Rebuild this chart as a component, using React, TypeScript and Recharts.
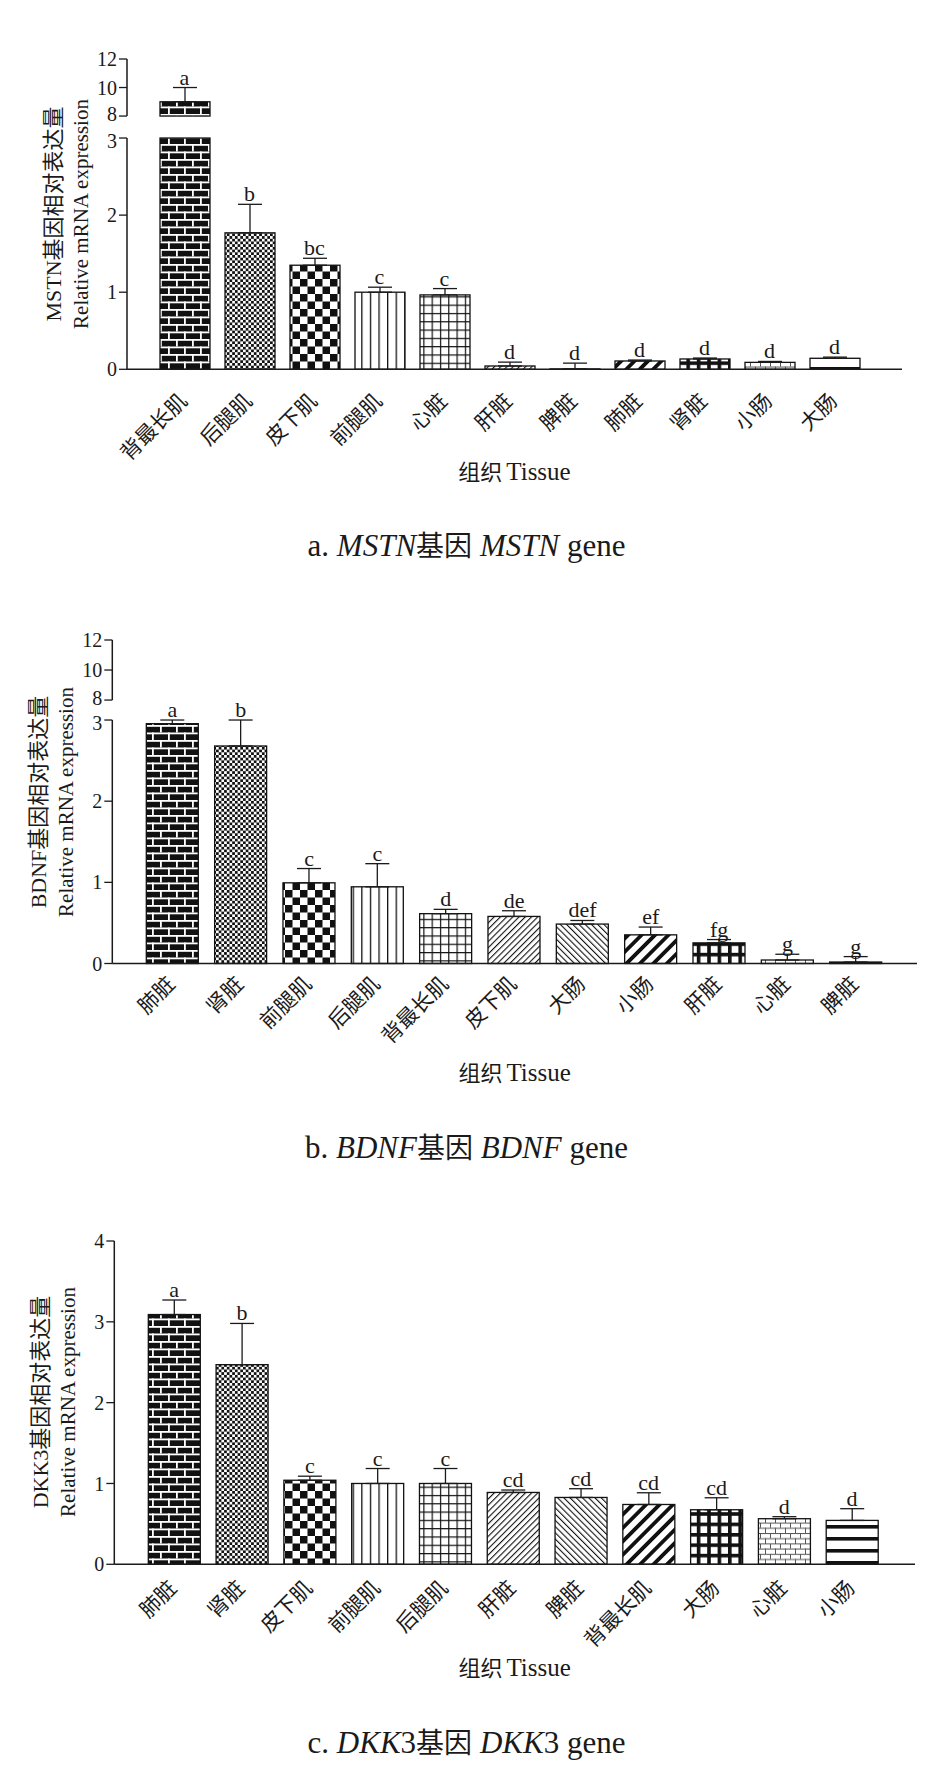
import React from 'react';
import { ComposedChart, Bar, XAxis, YAxis, ErrorBar, Line, LabelList, Cell, ReferenceLine } from 'recharts';

const SERIF = '"Liberation Serif", "Times New Roman", "Noto Sans CJK SC", serif';
const CJK = '"Noto Sans CJK SC", "Liberation Serif", sans-serif';
const INK = '#1a1a1a';

// ---------- Panel a: MSTN ----------
const mstnTissues = ['背最长肌', '后腿肌', '皮下肌', '前腿肌', '心脏', '肝脏', '脾脏', '肺脏', '肾脏', '小肠', '大肠'];
const mstnMeans = [9.0, 1.77, 1.35, 1.0, 0.965, 0.043, 0.005, 0.108, 0.134, 0.09, 0.143];
const mstnErrors = [1.0, 0.37, 0.09, 0.065, 0.082, 0.05, 0.075, 0.012, 0.012, 0.012, 0.015];
const mstnLetters = ['a', 'b', 'bc', 'c', 'c', 'd', 'd', 'd', 'd', 'd', 'd'];

// ---------- Panel b: BDNF ----------
const bdnfTissues = ['肺脏', '肾脏', '前腿肌', '后腿肌', '背最长肌', '皮下肌', '大肠', '小肠', '肝脏', '心脏', '脾脏'];
const bdnfMeans = [2.955, 2.68, 0.994, 0.945, 0.614, 0.58, 0.486, 0.353, 0.254, 0.043, 0.018];
const bdnfErrors = [0.045, 0.32, 0.176, 0.285, 0.053, 0.07, 0.044, 0.096, 0.041, 0.071, 0.067];
const bdnfLetters = ['a', 'b', 'c', 'c', 'd', 'de', 'def', 'ef', 'fg', 'g', 'g'];

// ---------- Panel c: DKK3 ----------
const dkkTissues = ['肺脏', '肾脏', '皮下肌', '前腿肌', '后腿肌', '肝脏', '脾脏', '背最长肌', '大肠', '心脏', '小肠'];
const dkkMeans = [3.09, 2.47, 1.04, 1.0, 1.0, 0.889, 0.827, 0.74, 0.675, 0.564, 0.543];
const dkkErrors = [0.18, 0.51, 0.05, 0.185, 0.185, 0.03, 0.108, 0.145, 0.148, 0.025, 0.145];
const dkkLetters = ['a', 'b', 'c', 'c', 'c', 'cd', 'cd', 'cd', 'cd', 'd', 'd'];

// ---------- Axis ticks ----------
const brokenTicks = [0, 1, 2, 3, 8, 10, 12];
const plainTicks = [0, 1, 2, 3, 4];
const brokenSegments = [[0, 3], [8, 12]];
const plainSegments = [[0, 4]];

type AxisMap = { to: (v: number) => number; from: (t: number) => number; broken: boolean; gap: number };

const makeBroken = (gap: number, k: number): AxisMap => ({
  broken: true,
  gap,
  to: (v: number) => (v >= 8 ? 3 + gap + (v - 8) * k : Math.min(v, 3)),
  from: (t: number) => (t <= 3 + 1e-6 ? Math.round(t) : Math.round(8 + (t - 3 - gap) / k)),
});
const plainMap: AxisMap = { broken: false, gap: 0, to: (v) => v, from: (t) => Math.round(t) };

const Patterns = ({ id }: { id: string }) => {
  const k = (i: number) => `${id}-p${i}`;
  const B = '#111';
  const W = '#fff';
  return (
    <defs>
      <pattern id={k(0)} patternUnits="userSpaceOnUse" width={16} height={15}>
        <rect width={16} height={15} fill={B} />
        <rect y={0} width={16} height={1.8} fill={W} />
        <rect y={7.5} width={16} height={1.8} fill={W} />
        <rect x={0} y={0} width={1.8} height={7.5} fill={W} />
        <rect x={8} y={7.5} width={1.8} height={7.5} fill={W} />
      </pattern>
      <pattern id={k(1)} patternUnits="userSpaceOnUse" width={5.4} height={5.4}>
        <rect width={5.4} height={5.4} fill={W} />
        <rect width={2.7} height={2.7} fill={B} />
        <rect x={2.7} y={2.7} width={2.7} height={2.7} fill={B} />
      </pattern>
      <pattern id={k(2)} patternUnits="userSpaceOnUse" width={15} height={15}>
        <rect width={15} height={15} fill={W} />
        <rect width={7.5} height={7.5} fill={B} />
        <rect x={7.5} y={7.5} width={7.5} height={7.5} fill={B} />
      </pattern>
      <pattern id={k(3)} patternUnits="userSpaceOnUse" width={8.6} height={10}>
        <rect width={8.6} height={10} fill={W} />
        <rect x={0} width={1.3} height={10} fill={B} />
      </pattern>
      <pattern id={k(4)} patternUnits="userSpaceOnUse" width={8.3} height={8.3}>
        <rect width={8.3} height={8.3} fill={W} />
        <rect x={0} width={1.2} height={8.3} fill={B} />
        <rect y={0} width={8.3} height={1.2} fill={B} />
      </pattern>
      <pattern id={k(5)} patternUnits="userSpaceOnUse" width={4.4} height={10} patternTransform="rotate(45)">
        <rect width={4.4} height={10} fill={W} />
        <rect x={0} width={1.1} height={10} fill={B} />
      </pattern>
      <pattern id={k(6)} patternUnits="userSpaceOnUse" width={4.4} height={10} patternTransform="rotate(-45)">
        <rect width={4.4} height={10} fill={W} />
        <rect x={0} width={1.1} height={10} fill={B} />
      </pattern>
      <pattern id={k(7)} patternUnits="userSpaceOnUse" width={9.5} height={10} patternTransform="rotate(45)">
        <rect width={9.5} height={10} fill={W} />
        <rect x={0} width={3.8} height={10} fill={B} />
      </pattern>
      <pattern id={k(8)} patternUnits="userSpaceOnUse" width={10.4} height={10.4}>
        <rect width={10.4} height={10.4} fill={B} />
        <rect x={3.6} y={3.6} width={6.8} height={6.8} fill={W} />
      </pattern>
      <pattern id={k(9)} patternUnits="userSpaceOnUse" width={10} height={10.4}>
        <rect width={10} height={10.4} fill={W} />
        <rect y={0} width={10} height={1} fill="#555" />
        <rect y={5.2} width={10} height={1} fill="#555" />
        <rect x={0} y={0} width={1} height={5.2} fill="#555" />
        <rect x={5} y={5.2} width={1} height={5.2} fill="#555" />
      </pattern>
      <pattern id={k(10)} patternUnits="userSpaceOnUse" width={10} height={12}>
        <rect width={10} height={12} fill={W} />
        <rect y={4} width={10} height={3.6} fill={B} />
      </pattern>
    </defs>
  );
};

const CatTick = (props: any) => {
  const { x, y, payload, dy } = props;
  const ax = x + 4;
  const ay = y + dy;
  return (
    <text
      x={ax}
      y={ay}
      transform={`rotate(-45, ${ax}, ${ay})`}
      textAnchor="end"
      fontSize={21}
      fontFamily={CJK}
      fill={INK}
    >
      {payload.value}
    </text>
  );
};

const YTick = (props: any) => {
  const { x, y, payload, fmt, broken } = props;
  const label = fmt(payload.value);
  let shift = 0;
  if (broken && label === '8') shift = -2.5;
  if (broken && label === '3') shift = 2.5;
  return (
    <text x={x} y={y + shift} dy="0.355em" textAnchor="end" fontSize={20} fontFamily={SERIF} fill={INK}>
      {label}
    </text>
  );
};

type PanelCfg = {
  id: string;
  tissues: string[];
  means: number[];
  errors: number[];
  letters: string[];
  plotTop: number;
  plotH: number;
  axisX: number;
  right: number;
  padL: number;
  padR: number;
  barSize: number;
  ticks: number[];
  segments: number[][];
  map: AxisMap;
  yMax: number;
  labelDy: number;
  titleY: number;
  captionY: number;
  yTitle1: string;
  caption: React.ReactNode;
};

const MARGIN_TOP = 20;
const XH = 150;

function Panel({ cfg }: { cfg: PanelCfg }) {
  const data = cfg.tissues.map((t, i) => ({
    tissue: t,
    mean: cfg.means[i],
    err: cfg.errors[i],
    letter: cfg.letters[i],
  }));
  const { to, from } = cfg.map;
  const height = MARGIN_TOP + cfg.plotH + XH;
  const chartTop = cfg.plotTop - MARGIN_TOP;
  const fmt = (t: number) => String(from(t));

  const shape = (props: any) => {
    const { x, y, width, height: h, fill, payload } = props;
    const common = { fill, stroke: '#111', strokeWidth: 1.3 };
    const hh = Math.max(h || 0, 0);
    if (!cfg.map.broken || payload.mean < 8 || hh <= 0) {
      return <rect x={x} y={y} width={width} height={hh} {...common} />;
    }
    const dv = to(payload.mean);
    const ppu = hh / dv;
    const base = y + hh;
    const lowTop = base - 3 * ppu;
    const highBottom = base - (3 + cfg.map.gap) * ppu;
    return (
      <g>
        <rect x={x} y={lowTop} width={width} height={base - lowTop} {...common} />
        <rect x={x} y={y} width={width} height={highBottom - y} {...common} />
      </g>
    );
  };

  const errKey = (d: any) => {
    const p = d && d.payload ? d.payload : d;
    return [0, to(p.mean + p.err) - to(p.mean)];
  };

  const plotCenter = (cfg.axisX + cfg.right) / 2;
  const cy = cfg.plotTop + cfg.plotH / 2;

  return (
    <>
      <div style={{ position: 'absolute', left: 0, top: chartTop, width: 933, height }}>
        <ComposedChart
          width={933}
          height={height}
          data={data}
          margin={{ top: MARGIN_TOP, right: 933 - cfg.right, bottom: 0, left: 0 }}
        >
          <Patterns id={cfg.id} />
          <XAxis
            dataKey="tissue"
            interval={0}
            tickLine={false}
            tickSize={0}
            tickMargin={0}
            height={XH}
            padding={{ left: cfg.padL, right: cfg.padR }}
            axisLine={{ stroke: INK, strokeWidth: 1.5 }}
            tick={(p: any) => <CatTick {...p} dy={cfg.labelDy} />}
          />
          <XAxis xAxisId="edge" type="number" domain={[0, 1]} hide />
          <YAxis
            type="number"
            width={cfg.axisX}
            domain={[0, to(cfg.yMax)]}
            ticks={cfg.ticks.map(to)}
            interval={0}
            tickFormatter={fmt}
            axisLine={false}
            tickLine={{ stroke: INK, strokeWidth: 1.3 }}
            tickSize={8}
            tickMargin={2}
            tick={(p: any) => <YTick {...p} fmt={fmt} broken={cfg.map.broken} />}
          />
          {cfg.segments.map(([a, b], i) => (
            <ReferenceLine
              key={i}
              xAxisId="edge"
              segment={[
                { x: 0, y: to(a) },
                { x: 0, y: to(b) },
              ]}
              stroke={INK}
              strokeWidth={1.5}
              ifOverflow="visible"
            />
          ))}
          <Bar dataKey={(d: any) => to(d.mean)} barSize={cfg.barSize} isAnimationActive={false} shape={shape}>
            {data.map((_, i) => (
              <Cell key={i} fill={`url(#${cfg.id}-p${i})`} />
            ))}
            <ErrorBar dataKey={errKey} width={12} stroke={INK} strokeWidth={1.3} direction="y" />
          </Bar>
          <Line
            dataKey={(d: any) => to(d.mean + d.err)}
            stroke="none"
            dot={false}
            activeDot={false}
            isAnimationActive={false}
            legendType="none"
          >
            <LabelList dataKey="letter" position="top" offset={3} fill={INK} fontSize={22} fontFamily={SERIF} />
          </Line>
        </ComposedChart>
      </div>
      {/* y-axis title, two lines */}
      <div
        style={{
          position: 'absolute',
          left: cfg.axisX - 73,
          top: cy,
          transform: 'translate(-50%, -50%) rotate(-90deg)',
          whiteSpace: 'nowrap',
          lineHeight: 1,
          fontSize: 22,
          fontFamily: SERIF,
          color: INK,
        }}
      >
        {cfg.yTitle1}
      </div>
      <div
        style={{
          position: 'absolute',
          left: cfg.axisX - 46,
          top: cy,
          transform: 'translate(-50%, -50%) rotate(-90deg)',
          whiteSpace: 'nowrap',
          lineHeight: 1,
          fontSize: 21,
          fontFamily: SERIF,
          color: INK,
        }}
      >
        Relative mRNA expression
      </div>
      {/* x-axis title */}
      <div
        style={{
          position: 'absolute',
          left: plotCenter - 150,
          width: 300,
          top: cfg.titleY - 15,
          lineHeight: '30px',
          textAlign: 'center',
          whiteSpace: 'nowrap',
          fontFamily: SERIF,
          color: INK,
        }}
      >
        <span style={{ fontSize: 22, fontFamily: CJK }}>组织</span> <span style={{ fontSize: 25 }}>Tissue</span>
      </div>
      {/* caption */}
      <div
        style={{
          position: 'absolute',
          left: 0,
          width: 933,
          top: cfg.captionY - 20,
          lineHeight: '40px',
          textAlign: 'center',
          whiteSpace: 'nowrap',
          fontSize: 31,
          fontFamily: SERIF,
          color: INK,
        }}
      >
        {cfg.caption}
      </div>
    </>
  );
}

const cjk = (s: string) => <span style={{ fontFamily: CJK, fontSize: 28 }}>{s}</span>;

const panels: PanelCfg[] = [
  {
    id: 'a',
    tissues: mstnTissues,
    means: mstnMeans,
    errors: mstnErrors,
    letters: mstnLetters,
    plotTop: 59,
    plotH: 310.3,
    axisX: 127,
    right: 902,
    padL: 25,
    padR: 35,
    barSize: 50,
    ticks: brokenTicks,
    segments: brokenSegments,
    map: makeBroken(0.285, 0.185),
    yMax: 12,
    labelDy: 33,
    titleY: 470,
    captionY: 544,
    yTitle1: 'MSTN基因相对表达量',
    caption: (
      <>
        a. <i>MSTN</i>
        {cjk('基因')} <i>MSTN</i> gene
      </>
    ),
  },
  {
    id: 'b',
    tissues: bdnfTissues,
    means: bdnfMeans,
    errors: bdnfErrors,
    letters: bdnfLetters,
    plotTop: 640,
    plotH: 323.5,
    axisX: 112.3,
    right: 917,
    padL: 26,
    padR: 27,
    barSize: 52,
    ticks: brokenTicks,
    segments: brokenSegments,
    map: makeBroken(0.246, 0.185),
    yMax: 12,
    labelDy: 22,
    titleY: 1071,
    captionY: 1146,
    yTitle1: 'BDNF基因相对表达量',
    caption: (
      <>
        b. <i>BDNF</i>
        {cjk('基因')} <i>BDNF</i> gene
      </>
    ),
  },
  {
    id: 'c',
    tissues: dkkTissues,
    means: dkkMeans,
    errors: dkkErrors,
    letters: dkkLetters,
    plotTop: 1240.7,
    plotH: 323.3,
    axisX: 114.3,
    right: 915,
    padL: 26,
    padR: 29,
    barSize: 52,
    ticks: plainTicks,
    segments: plainSegments,
    map: plainMap,
    yMax: 4,
    labelDy: 25,
    titleY: 1666,
    captionY: 1741,
    yTitle1: 'DKK3基因相对表达量',
    caption: (
      <>
        c. <i>DKK</i>3{cjk('基因')} <i>DKK</i>3 gene
      </>
    ),
  },
];

export default function App() {
  return (
    <div
      style={{
        position: 'absolute',
        left: 0,
        top: 0,
        width: 933,
        height: 1775,
        background: '#fff',
        overflow: 'hidden',
      }}
    >
      {panels.map((cfg) => (
        <Panel key={cfg.id} cfg={cfg} />
      ))}
    </div>
  );
}
